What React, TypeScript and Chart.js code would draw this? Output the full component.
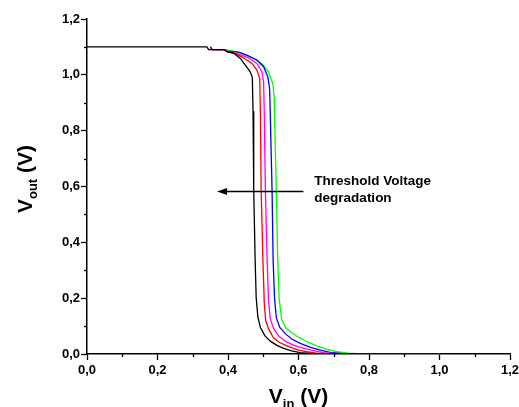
import React, { useEffect, useRef } from 'react';
import { Chart, registerables } from 'chart.js';

Chart.register(...registerables);

// ---- data (Vin, Vout) ----
const blackCurve: [number, number][] = [
  [0, 1.1], [0.34, 1.1], [0.345, 1.09], [0.39, 1.09], [0.397, 1.083], [0.416, 1.077],
  [0.435, 1.059], [0.449, 1.035], [0.463, 1.011], [0.469, 0.99], [0.471, 0.87],
  [0.473, 0.587], [0.477, 0.337], [0.48, 0.2], [0.485, 0.13], [0.492, 0.095],
  [0.505, 0.065], [0.52, 0.046], [0.54, 0.03], [0.558, 0.02], [0.58, 0.011],
  [0.605, 0.005], [0.63, 0.002], [0.66, 0.0005], [0.7, 0], [1.0, 0],
];
const redCurve: [number, number][] = [
  [0.35, 1.1], [0.355, 1.09], [0.39, 1.09], [0.397, 1.083], [0.42, 1.077], [0.444, 1.061],
  [0.468, 1.041], [0.482, 1.017], [0.49, 0.987], [0.492, 0.856], [0.494, 0.587],
  [0.499, 0.337], [0.503, 0.18], [0.507, 0.12], [0.515, 0.09], [0.529, 0.058],
  [0.545, 0.042], [0.567, 0.029], [0.595, 0.016], [0.624, 0.008], [0.65, 0.003],
  [0.68, 0.001], [0.72, 0], [1.0, 0],
];
const magentaCurve: [number, number][] = [
  [0.35, 1.1], [0.355, 1.09], [0.39, 1.09], [0.397, 1.083], [0.425, 1.077], [0.458, 1.061],
  [0.482, 1.041], [0.496, 1.011], [0.501, 0.975], [0.503, 0.856], [0.506, 0.587],
  [0.511, 0.337], [0.515, 0.19], [0.52, 0.125], [0.53, 0.09], [0.544, 0.064],
  [0.562, 0.046], [0.586, 0.032], [0.615, 0.02], [0.643, 0.012], [0.67, 0.005],
  [0.7, 0.002], [0.74, 0], [1.0, 0],
];
const blueCurve: [number, number][] = [
  [0.35, 1.1], [0.355, 1.09], [0.39, 1.09], [0.397, 1.085], [0.43, 1.081], [0.458, 1.068],
  [0.482, 1.053], [0.501, 1.029], [0.513, 0.993], [0.518, 0.952], [0.52, 0.856],
  [0.525, 0.587], [0.528, 0.337], [0.532, 0.2], [0.537, 0.13], [0.547, 0.095],
  [0.563, 0.072], [0.582, 0.053], [0.605, 0.038], [0.632, 0.025], [0.662, 0.014],
  [0.69, 0.006], [0.72, 0.002], [0.76, 0], [1.0, 0],
];
const greenCurve: [number, number][] = [
  [0.35, 1.1], [0.355, 1.09], [0.39, 1.09], [0.407, 1.087], [0.44, 1.078], [0.468, 1.061],
  [0.496, 1.041], [0.515, 1.011], [0.528, 0.963], [0.531, 0.916], [0.532, 0.856],
  [0.537, 0.587], [0.541, 0.337], [0.545, 0.2], [0.552, 0.125], [0.563, 0.095],
  [0.577, 0.08], [0.6, 0.06], [0.624, 0.044], [0.65, 0.03], [0.68, 0.017],
  [0.71, 0.008], [0.74, 0.003], [0.78, 0], [1.0, 0],
];

const seriesColors = ['#000000', '#ff0000', '#ff00ff', '#0000ff', '#00ff00'];
const axisMin = 0;
const axisMax = 1.2;
const tickStep = 0.1;

const annotationLines = ['Threshold Voltage', 'degradation'];
const arrowFrom: [number, number] = [0.614, 0.584];
const arrowTo: [number, number] = [0.369, 0.584];
const annotationAnchor: [number, number] = [0.645, 0.605];

const FONT = 'Arial, "Liberation Sans", Helvetica, sans-serif';

const isMajor = (v: number) => Math.round(v * 10) % 2 === 0;
const fmt = (v: number) => (isMajor(v) ? v.toFixed(1).replace('.', ',') : '');

const decorPlugin = {
  id: 'decor',
  afterDraw(chart: any) {
    const { ctx, chartArea, scales } = chart;
    const xs = scales.x;
    const ys = scales.y;
    ctx.save();
    // minor ticks
    ctx.strokeStyle = '#000';
    ctx.lineWidth = 1.3;
    for (let i = 1; i < 12; i += 2) {
      const v = i * tickStep;
      const px = Math.round(xs.getPixelForValue(v)) + 0.5;
      ctx.beginPath();
      ctx.moveTo(px, chartArea.bottom);
      ctx.lineTo(px, chartArea.bottom + 3);
      ctx.stroke();
      const py = Math.round(ys.getPixelForValue(v)) + 0.5;
      ctx.beginPath();
      ctx.moveTo(chartArea.left, py);
      ctx.lineTo(chartArea.left - 3, py);
      ctx.stroke();
    }

    // x title: V_in (V)
    const big = `bold 21px ${FONT}`;
    const small = `bold 13px ${FONT}`;
    ctx.fillStyle = '#000';
    ctx.textBaseline = 'alphabetic';
    ctx.textAlign = 'left';
    {
      ctx.font = big;
      const wV = ctx.measureText('V').width;
      const wRest = ctx.measureText(' (V)').width;
      ctx.font = small;
      const wSub = ctx.measureText('in').width;
      const total = wV + wSub + wRest;
      const cx = (chartArea.left + chartArea.right) / 2;
      const x0 = cx - total / 2;
      const base = 403;
      ctx.font = big;
      ctx.fillText('V', x0, base);
      ctx.font = small;
      ctx.fillText('in', x0 + wV, base + 5);
      ctx.font = big;
      ctx.fillText(' (V)', x0 + wV + wSub, base);
    }
    // y title: V_out (V)
    {
      ctx.save();
      ctx.translate(32, 179);
      ctx.rotate(-Math.PI / 2);
      ctx.font = big;
      const wV = ctx.measureText('V').width;
      const wRest = ctx.measureText(' (V)').width;
      ctx.font = small;
      const wSub = ctx.measureText('out').width;
      const total = wV + wSub + wRest;
      const x0 = -total / 2;
      ctx.font = big;
      ctx.fillText('V', x0, 0);
      ctx.font = small;
      ctx.fillText('out', x0 + wV, 5);
      ctx.font = big;
      ctx.fillText(' (V)', x0 + wV + wSub, 0);
      ctx.restore();
    }

    // arrow
    const ax1 = xs.getPixelForValue(arrowFrom[0]);
    const ay = Math.round(ys.getPixelForValue(arrowFrom[1])) + 0.5;
    const ax2 = xs.getPixelForValue(arrowTo[0]);
    ctx.strokeStyle = '#000';
    ctx.lineWidth = 1.5;
    ctx.beginPath();
    ctx.moveTo(ax1, ay);
    ctx.lineTo(ax2 + 8, ay);
    ctx.stroke();
    ctx.beginPath();
    ctx.moveTo(ax2, ay);
    ctx.lineTo(ax2 + 10, ay - 3.5);
    ctx.lineTo(ax2 + 10, ay + 3.5);
    ctx.closePath();
    ctx.fill();

    // annotation text
    ctx.font = `bold 13.5px ${FONT}`;
    const tx = xs.getPixelForValue(annotationAnchor[0]);
    const ty = ys.getPixelForValue(annotationAnchor[1]);
    annotationLines.forEach((line, i) => {
      ctx.fillText(line, tx, ty + i * 17);
    });
    ctx.restore();
  },
};

export default function App() {
  const canvasRef = useRef<HTMLCanvasElement | null>(null);

  useEffect(() => {
    document.body.style.margin = '0';
    const canvas = canvasRef.current;
    if (!canvas) return;
    const curves = [blackCurve, redCurve, magentaCurve, blueCurve, greenCurve];
    const chart = new Chart(canvas, {
      type: 'line',
      data: {
        datasets: curves.map((c, i) => ({
          data: c.map(([x, y]) => ({ x, y })),
          borderColor: seriesColors[i],
          backgroundColor: seriesColors[i],
          borderWidth: 1.3,
          pointRadius: 0,
          tension: 0,
          fill: false,
        })),
      },
      options: {
        responsive: false,
        animation: false,
        events: [],
        layout: { padding: { left: 0, right: 9, top: 19, bottom: 0 } },
        plugins: { legend: { display: false }, tooltip: { enabled: false } },
        scales: {
          x: {
            type: 'linear',
            min: axisMin,
            max: axisMax,
            border: { display: true, color: '#000', width: 1.5 },
            grid: {
              display: true,
              drawOnChartArea: false,
              drawTicks: true,
              tickLength: 6,
              tickWidth: 1.3,
              tickColor: (c: any) => (c.tick && isMajor(c.tick.value) ? '#000' : 'rgba(0,0,0,0)'),
            },
            ticks: {
              stepSize: tickStep,
              autoSkip: false,
              maxRotation: 0,
              padding: 3,
              color: '#000',
              font: { family: FONT, size: 13, weight: 'bold' },
              callback: (v: any) => fmt(Number(v)),
            },
            afterFit: (s: any) => {
              s.height = 53;
              s.paddingLeft = 0;
              s.paddingRight = 0;
            },
          },
          y: {
            type: 'linear',
            min: axisMin,
            max: axisMax,
            border: { display: true, color: '#000', width: 1.5 },
            grid: {
              display: true,
              drawOnChartArea: false,
              drawTicks: true,
              tickLength: 6,
              tickWidth: 1.3,
              tickColor: (c: any) => (c.tick && isMajor(c.tick.value) ? '#000' : 'rgba(0,0,0,0)'),
            },
            ticks: {
              stepSize: tickStep,
              autoSkip: false,
              padding: 1,
              color: '#000',
              font: { family: FONT, size: 13, weight: 'bold' },
              callback: (v: any) => fmt(Number(v)),
            },
            afterFit: (s: any) => {
              s.width = 87;
              s.paddingTop = 0;
              s.paddingBottom = 0;
            },
          },
        },
      } as any,
      plugins: [decorPlugin],
    });
    return () => chart.destroy();
  }, []);

  return (
    <div style={{ width: 519, height: 407, position: 'relative', background: '#fff' }}>
      <canvas ref={canvasRef} width={519} height={407} />
    </div>
  );
}
